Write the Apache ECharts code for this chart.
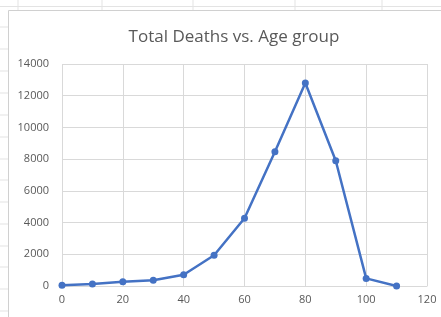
<!DOCTYPE html>
<html>
<head>
<meta charset="utf-8">
<script src="https://cdn.jsdelivr.net/npm/echarts@6/dist/echarts.min.js"></script>
<style>
  html, body { margin: 0; padding: 0; background: #fff; }
  #chart { width: 441px; height: 317px; }
</style>
</head>
<body>
<div id="chart"></div>
<script>
// age group (x) and total deaths (y)
const ageGroups = [0, 10, 20, 30, 40, 50, 60, 70, 80, 90, 100, 110]
const totalDeaths = [40, 120, 270, 360, 710, 1940, 4270, 8470, 12800, 7900, 480, 0]

const LABEL_COLOR = '#595959'
const GRID_COLOR = '#d9d9d9'
const SHEET_LINE = '#e3e3e3'

// spreadsheet cell lines showing around the chart object
function sheetLines() {
  const lines = []
  const rowYs = [27, 49, 71, 93, 115, 137, 159, 180, 202, 224, 246, 267, 289, 311]
  rowYs.forEach(y => {
    lines.push({ type: 'line', shape: { x1: 0, y1: y, x2: 8, y2: y }, style: { stroke: SHEET_LINE, lineWidth: 1 } })
  })
  const colXs = [18, 102, 193, 295, 382]
  colXs.forEach(x => {
    lines.push({ type: 'line', shape: { x1: x, y1: 0, x2: x, y2: 10 }, style: { stroke: SHEET_LINE, lineWidth: 1 } })
  })
  lines.push({ type: 'line', shape: { x1: 0, y1: 6.5, x2: 441, y2: 6.5 }, style: { stroke: SHEET_LINE, lineWidth: 1 } })
  // chart object border
  lines.push({ type: 'rect', shape: { x: 8.5, y: 10.5, width: 440, height: 320 }, style: { fill: '#fff', stroke: '#d0d0d0', lineWidth: 1 }, z: -1 })
  return lines
}

const chart = echarts.init(document.getElementById('chart'))

chart.setOption({
  backgroundColor: '#fff',
  animation: false,
  title: {
    text: 'Total Deaths vs. Age group',
    left: 229,
    textAlign: 'center',
    top: 24,
    textStyle: {
      color: LABEL_COLOR,
      fontSize: 17,
      fontWeight: 'normal',
      fontFamily: 'Open Sans'
    }
  },
  graphic: sheetLines(),
  grid: {
    left: 62,
    right: 14,
    top: 64,
    bottom: 31
  },
  xAxis: {
    type: 'value',
    min: 0,
    max: 120,
    interval: 20,
    axisLine: { show: true, lineStyle: { color: GRID_COLOR } },
    axisTick: { show: false },
    axisLabel: { color: LABEL_COLOR, fontSize: 11, fontFamily: 'Open Sans', margin: 8 },
    splitLine: { show: true, lineStyle: { color: GRID_COLOR } }
  },
  yAxis: {
    type: 'value',
    min: 0,
    max: 14000,
    interval: 2000,
    axisLine: { show: false },
    axisTick: { show: false },
    axisLabel: {
      color: LABEL_COLOR,
      fontSize: 11,
      fontFamily: 'Open Sans',
      margin: 13,
      formatter: v => String(v)
    },
    splitLine: { show: true, lineStyle: { color: GRID_COLOR } }
  },
  series: [
    {
      type: 'line',
      data: ageGroups.map((a, i) => [a, totalDeaths[i]]),
      symbol: 'circle',
      symbolSize: 7,
      itemStyle: { color: '#4472C4' },
      lineStyle: { color: '#4472C4', width: 2.5 }
    }
  ]
})
</script>
</body>
</html>
